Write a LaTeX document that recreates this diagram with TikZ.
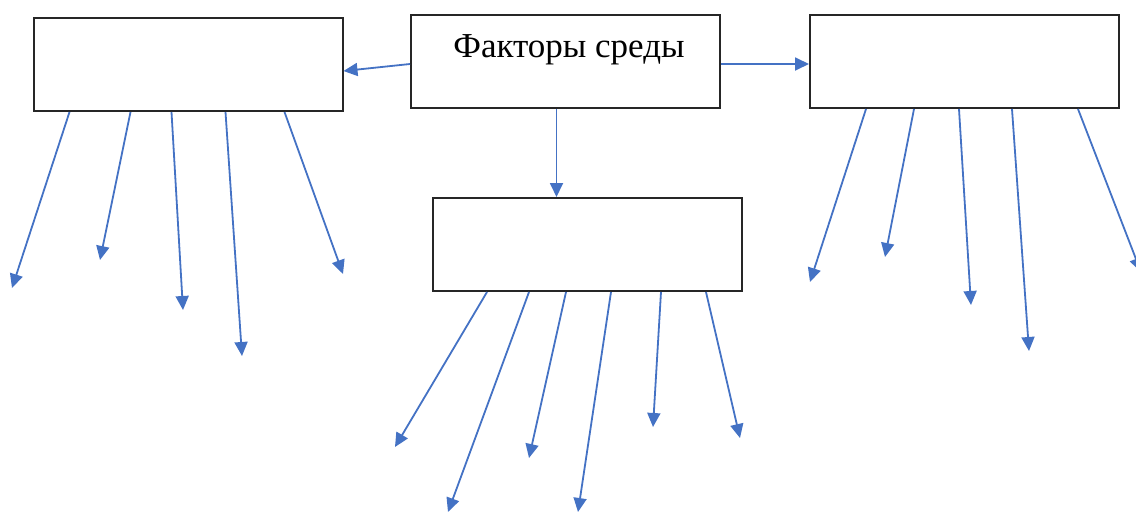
\documentclass[tikz,border=0pt]{standalone}
\usepackage{fontspec}
\setmainfont{Liberation Serif}
\usetikzlibrary{arrows.meta}
\definecolor{wordblue}{HTML}{4472C4}
\begin{document}
\begin{tikzpicture}[x=1pt,y=-1pt,
  box/.style={draw=black!85,line width=2pt,fill=white,minimum width=309pt,minimum height=93pt,inner sep=0pt},
  arr/.style={draw=wordblue,line width=1.8pt,-{Triangle[length=14pt,width=13pt]}},
  lbl/.style={font=\fontsize{35}{40}\selectfont,inner sep=0pt,anchor=base}]
\useasboundingbox (0,0) rectangle (1136,512);
\begin{scope}
\clip (0,0) rectangle (1136,512);
% boxes
\node[box] (L) at (188,64.5) {};
\node[box] (T) at (565.5,61.5) {};
\node[box] (R) at (964.5,61.5) {};
\node[box] (B) at (587.5,244.5) {};
\node[lbl] (Tt) at (569,57) {Факторы среды};
% connectors between boxes
\draw[arr] ([yshift=-2.5pt]T.west) -- ([yshift=-6.5pt]L.east);
\draw[arr] ([yshift=-2.5pt]T.east) -- ([yshift=-2.5pt]R.west);
\draw[arr] ([xshift=-9pt]T.south) -- ([xshift=-31pt]B.north);
% free ends
\coordinate (l1) at (12,288);
\coordinate (l2) at (100,260);
\coordinate (l3) at (183,310);
\coordinate (l4) at (242,356);
\coordinate (l5) at (343,274);
\coordinate (r1) at (810,282);
\coordinate (r2) at (885,257);
\coordinate (r3) at (971,305);
\coordinate (r4) at (1029,351);
\coordinate (r5) at (1141,272);
\coordinate (b1) at (395,447);
\coordinate (b2) at (448,512);
\coordinate (b3) at (529,458);
\coordinate (b4) at (578,512);
\coordinate (b5) at (653,427);
\coordinate (b6) at (740,438);
% left box
\draw[arr] ([xshift=37pt]L.south west) -- (l1);
\draw[arr] ([xshift=98pt]L.south west) -- (l2);
\draw[arr] ([xshift=139pt]L.south west) -- (l3);
\draw[arr] ([xshift=193pt]L.south west) -- (l4);
\draw[arr] ([xshift=252pt]L.south west) -- (l5);
% right box
\draw[arr] ([xshift=57pt]R.south west) -- (r1);
\draw[arr] ([xshift=105pt]R.south west) -- (r2);
\draw[arr] ([xshift=150pt]R.south west) -- (r3);
\draw[arr] ([xshift=203pt]R.south west) -- (r4);
\draw[arr] ([xshift=269pt]R.south west) -- (r5);
% bottom box
\draw[arr] ([xshift=55pt]B.south west) -- (b1);
\draw[arr] ([xshift=97pt]B.south west) -- (b2);
\draw[arr] ([xshift=134pt]B.south west) -- (b3);
\draw[arr] ([xshift=179pt]B.south west) -- (b4);
\draw[arr] ([xshift=229pt]B.south west) -- (b5);
\draw[arr] ([xshift=274pt]B.south west) -- (b6);
\end{scope}
\end{tikzpicture}
\end{document}
